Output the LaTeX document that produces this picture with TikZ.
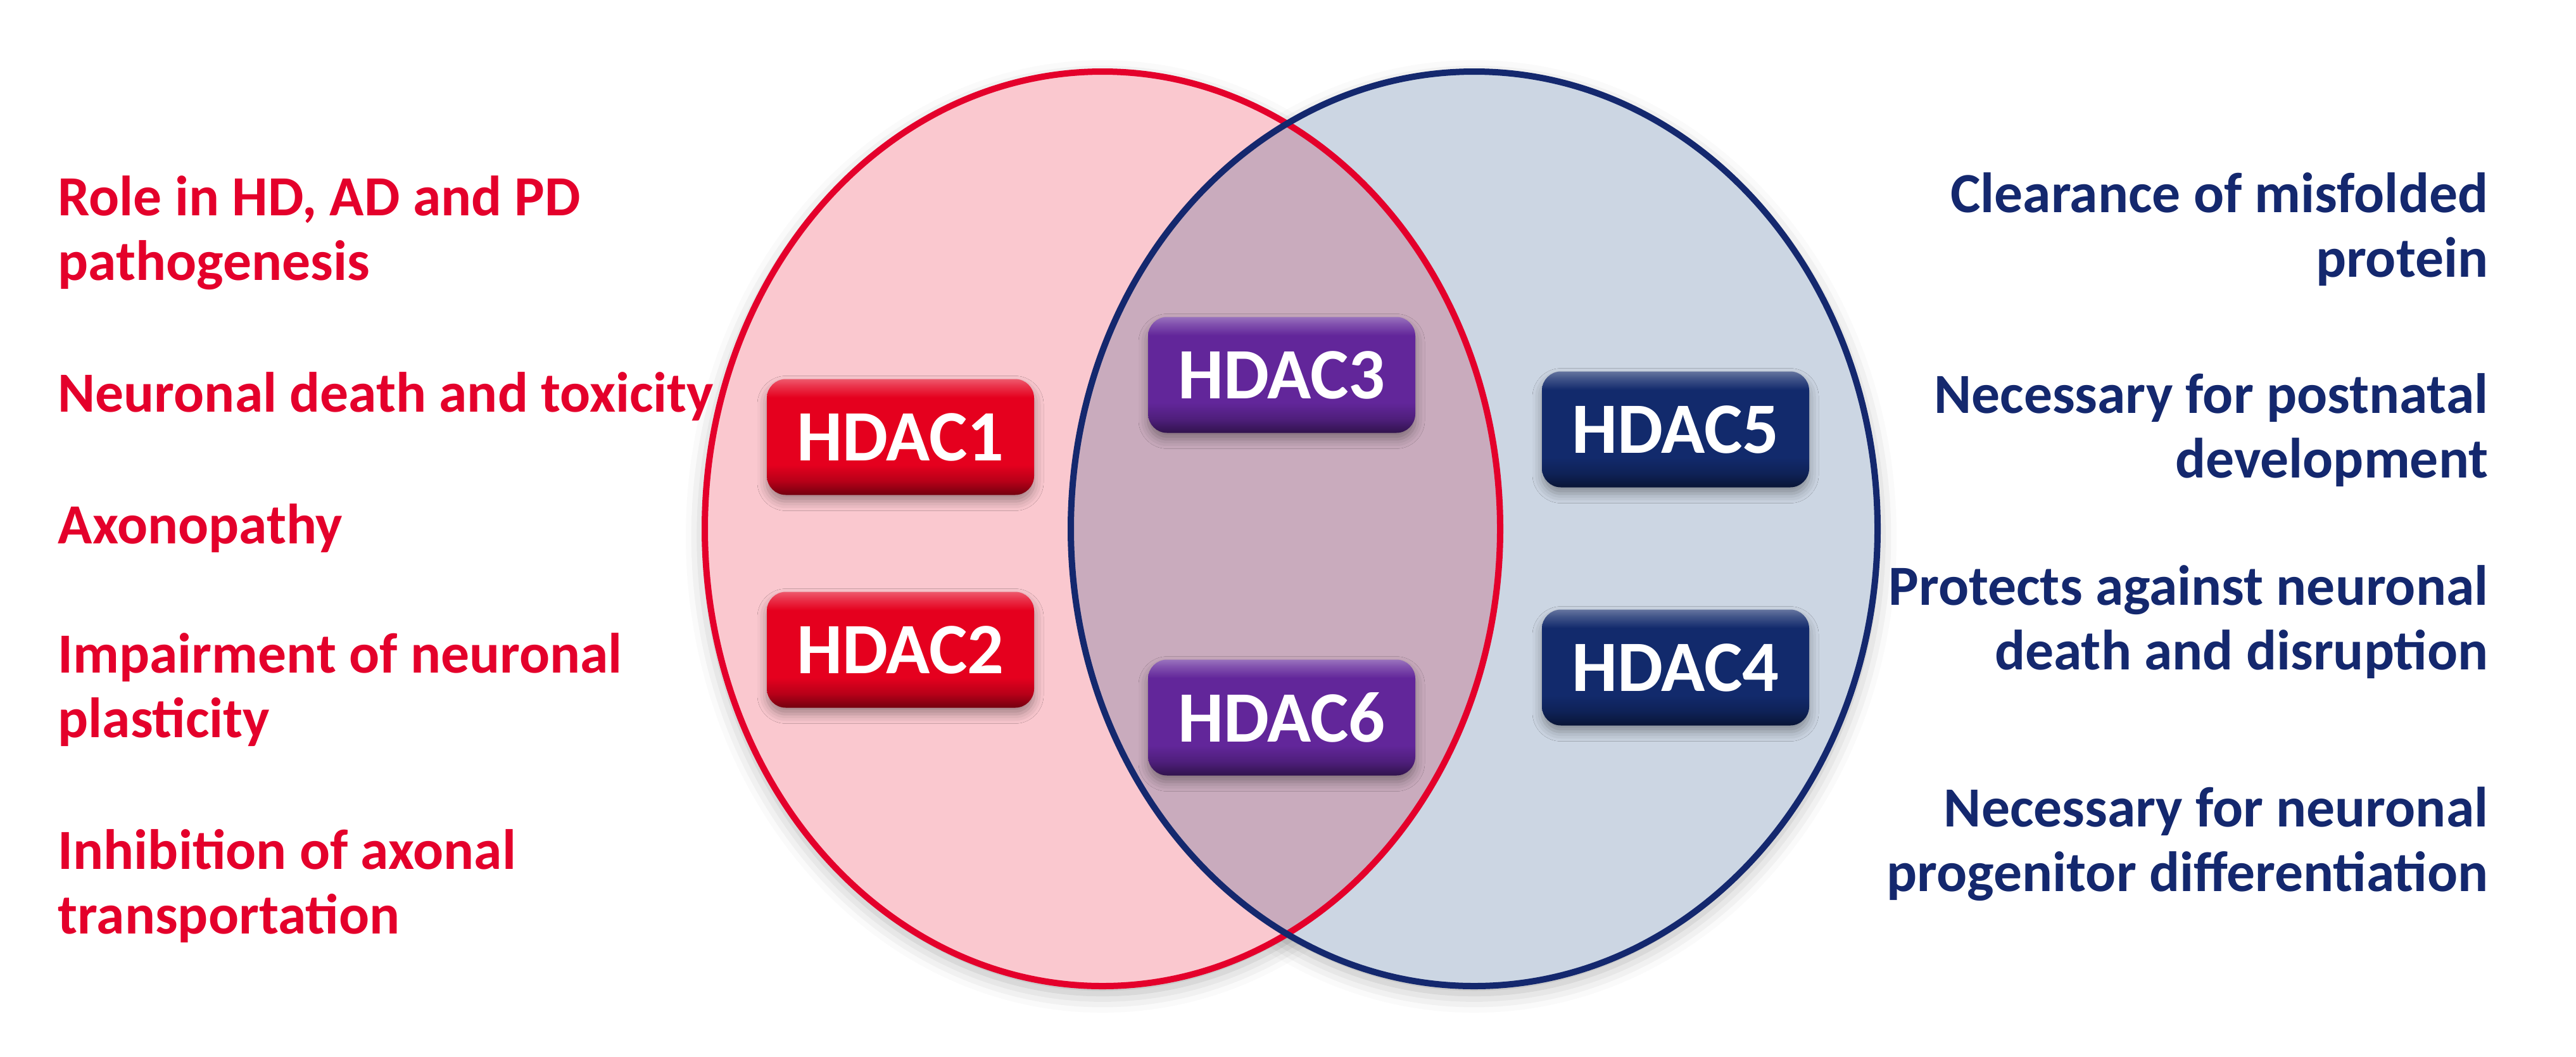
\documentclass[tikz,border=0pt]{standalone}
\usepackage{fontspec}
\setmainfont{Carlito}
\usepackage{tikz}
\usetikzlibrary{shadows.blur}
\definecolor{setred}{HTML}{E4002B}
\definecolor{setnavy}{HTML}{14286E}
\definecolor{setpink}{HTML}{FAC8CF}
\definecolor{settint}{RGB}{27,70,128}
\definecolor{boxred}{HTML}{E5001E}
\definecolor{boxpurple}{HTML}{62269A}
\definecolor{boxblue}{HTML}{122A6C}
\colorlet{glossbase}{boxred}
\pgfdeclareverticalshading[glossbase]{gloss}{100bp}{%
  color(0bp)=(glossbase!50!black); color(25bp)=(glossbase!50!black);
  color(31bp)=(glossbase!80!black); color(38bp)=(glossbase);
  color(67bp)=(glossbase); color(72bp)=(glossbase!80!white);
  color(75bp)=(glossbase!65!white); color(100bp)=(glossbase!65!white)}

\begin{document}
\begin{tikzpicture}[font=\bfseries,
  hdac/.style={/utils/exec={\colorlet{glossbase}{#1}}, shading=gloss,
    rounded corners=0.3cm, minimum width=4.22cm, minimum height=1.83cm,
    inner sep=0pt, text=white, font=\fontsize{32.5}{36}\selectfont\bfseries,
    blur shadow={shadow xshift=0cm, shadow yshift=-0.1cm,
      shadow blur radius=0.15cm, shadow opacity=35}},
  lefttext/.style={text=setred, anchor=north west, align=left, inner sep=0pt,
    font=\fontsize{25.5}{29}\selectfont\bfseries},
  righttext/.style={text=setnavy, anchor=north east, align=right, inner sep=0pt,
    font=\fontsize{25.5}{29}\selectfont\bfseries}]
  \useasboundingbox (0,0) rectangle (40.68,-16.68);

  % Venn sets
  \coordinate (redc) at (17.41,-8.35);
  \coordinate (bluec) at (23.28,-8.35);
  \path[fill=white, blur shadow={shadow xshift=0cm, shadow yshift=-0.12cm,
      shadow blur radius=0.3cm, shadow opacity=30}] (redc) ellipse (6.28 and 7.22);
  \path[fill=white, blur shadow={shadow xshift=0cm, shadow yshift=-0.12cm,
      shadow blur radius=0.3cm, shadow opacity=30}] (bluec) ellipse (6.37 and 7.22);
  \fill[setpink] (redc) ellipse (6.28 and 7.22);
  \fill[settint, fill opacity=0.22] (bluec) ellipse (6.37 and 7.22);
  \draw[setred, line width=0.1cm] (redc) ellipse (6.28 and 7.22);
  \draw[setnavy, line width=0.1cm] (bluec) ellipse (6.37 and 7.22);

  % HDAC boxes
  \node[hdac=boxred] (hdac1) at (14.22,-6.90) {HDAC1};
  \node[hdac=boxred] (hdac2) at (14.22,-10.26) {HDAC2};
  \node[hdac=boxpurple] (hdac3) at (20.24,-5.92) {HDAC3};
  \node[hdac=boxpurple] (hdac6) at (20.24,-11.33) {HDAC6};
  \node[hdac=boxblue] (hdac5) at (26.46,-6.78) {HDAC5};
  \node[hdac=boxblue] (hdac4) at (26.46,-10.54) {HDAC4};

  % left labels
  \node[lefttext] (role) at (0.91,-2.77) {Role in HD, AD and PD\\pathogenesis};
  \node[lefttext] (death) at (0.91,-5.87) {Neuronal death and toxicity};
  \node[lefttext] (axon) at (0.91,-7.95) {Axonopathy};
  \node[lefttext] (plast) at (0.91,-9.99) {Impairment of neuronal\\plasticity};
  \node[lefttext] (transp) at (0.91,-13.09) {Inhibition of axonal\\transportation};

  % right labels
  \node[righttext] (clear) at (39.30,-2.72) {Clearance of misfolded\\protein};
  \node[righttext] (postn) at (39.30,-5.89) {Necessary for postnatal\\development};
  \node[righttext] (protect) at (39.30,-8.92) {Protects against neuronal\\death and disruption};
  \node[righttext] (progen) at (39.30,-12.42) {Necessary for neuronal\\progenitor differentiation};
\end{tikzpicture}
\end{document}
